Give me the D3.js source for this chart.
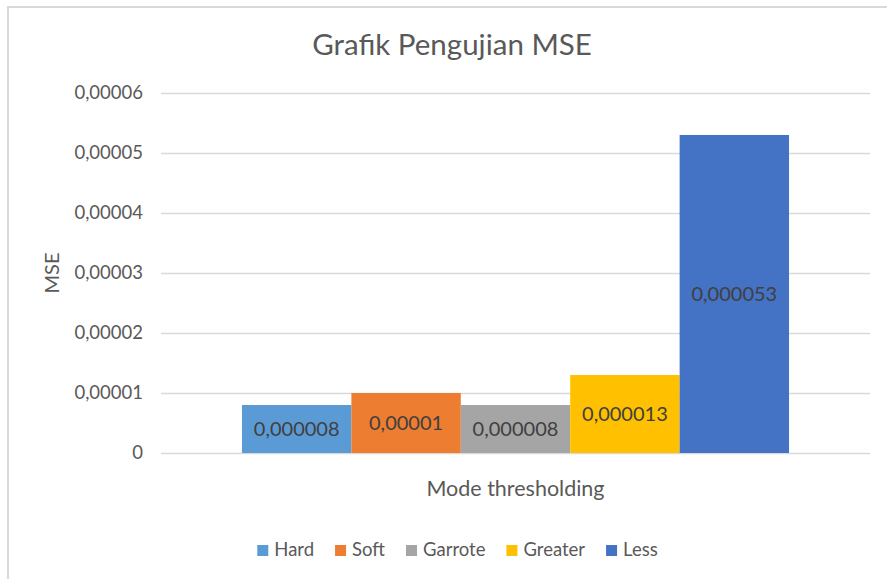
<!DOCTYPE html>
<html>
<head>
<meta charset="utf-8">
<script src="https://cdn.jsdelivr.net/npm/d3@7"></script>
<style>
  html, body { margin: 0; padding: 0; background: #fff; }
  svg { display: block; font-family: Lato, "Open Sans", sans-serif; }
</style>
</head>
<body>
<svg id="chart" width="887" height="579"></svg>
<script>
const series = ["Hard", "Soft", "Garrote", "Greater", "Less"];
const values = [0.000008, 0.00001, 0.000008, 0.000013, 0.000053];
const labels = ["0,000008", "0,00001", "0,000008", "0,000013", "0,000053"];
const colors = ["#5b9bd5", "#ed7d31", "#a5a5a5", "#ffc000", "#4472c4"];
const yTicks = [0, 0.00001, 0.00002, 0.00003, 0.00004, 0.00005, 0.00006];
const yTickLabels = ["0", "0,00001", "0,00002", "0,00003", "0,00004", "0,00005", "0,00006"];
const category = ["Mode thresholding"];

const svg = d3.select("#chart");
const textColor = "#595959";

// chart border (top and left visible)
svg.append("path")
  .attr("d", "M8,600 V7 H900")
  .attr("fill", "none")
  .attr("stroke", "#d9d9d9")
  .attr("stroke-width", 2);

const plot = { left: 161, right: 870, top: 93, bottom: 453 };

const y = d3.scaleLinear().domain([0, 0.00006]).range([plot.bottom, plot.top]);
const x0 = d3.scaleBand().domain(category).range([plot.left, plot.right]).paddingInner(0).paddingOuter(0.148);
const x1 = d3.scaleBand().domain(series).range([0, x0.bandwidth()]).padding(0);

// gridlines
const yAxis = d3.axisLeft(y)
  .tickValues(yTicks)
  .tickSize(-(plot.right - plot.left))
  .tickPadding(18)
  .tickFormat((d, i) => yTickLabels[i]);

const gAxis = svg.append("g")
  .attr("transform", `translate(${plot.left},0)`)
  .call(yAxis);
gAxis.select(".domain").remove();
gAxis.selectAll(".tick line").attr("stroke", "#d9d9d9").attr("stroke-width", 1.3);
gAxis.selectAll(".tick text")
  .attr("fill", textColor)
  .attr("font-size", 18.5)
  .attr("font-family", "Lato, sans-serif");

// bars
const g = svg.append("g").attr("transform", `translate(${x0(category[0])},0)`);
g.selectAll("rect")
  .data(values)
  .join("rect")
  .attr("x", (d, i) => x1(series[i]))
  .attr("width", x1.bandwidth())
  .attr("y", d => y(d))
  .attr("height", d => y(0) - y(d))
  .attr("fill", (d, i) => colors[i]);

// data labels
g.selectAll("text.lbl")
  .data(values)
  .join("text")
  .attr("class", "lbl")
  .attr("x", (d, i) => x1(series[i]) + x1.bandwidth() / 2)
  .attr("y", d => (y(d) + y(0)) / 2)
  .attr("dy", "0.35em")
  .attr("text-anchor", "middle")
  .attr("fill", "#404040")
  .attr("font-size", 20)
  .text((d, i) => labels[i]);

// title
svg.append("text")
  .attr("x", 452)
  .attr("y", 55)
  .attr("text-anchor", "middle")
  .attr("fill", textColor)
  .attr("font-size", 29.5)
  .text("Grafik Pengujian MSE");

// axis titles
svg.append("text")
  .attr("x", (plot.left + plot.right) / 2)
  .attr("y", 496)
  .attr("text-anchor", "middle")
  .attr("fill", textColor)
  .attr("font-size", 21.5)
  .text(category[0]);

svg.append("text")
  .attr("transform", `translate(59,${(plot.top + plot.bottom) / 2}) rotate(-90)`)
  .attr("text-anchor", "middle")
  .attr("fill", textColor)
  .attr("font-size", 20)
  .text("MSE");

// legend
const legend = svg.append("g");
const items = legend.selectAll("g")
  .data(series)
  .join("g");
items.append("rect")
  .attr("width", 11)
  .attr("height", 11)
  .attr("y", -11)
  .attr("fill", (d, i) => colors[i]);
items.append("text")
  .attr("x", 17)
  .attr("y", 0)
  .attr("fill", textColor)
  .attr("font-size", 18.5)
  .text(d => d);
let cx = 0;
const gap = 21;
items.each(function () {
  d3.select(this).attr("transform", `translate(${cx},0)`);
  cx += 17 + this.querySelector("text").getComputedTextLength() + gap;
});
const legendWidth = cx - gap;
legend.attr("transform", `translate(${457.5 - legendWidth / 2},556)`);
</script>
</body>
</html>
